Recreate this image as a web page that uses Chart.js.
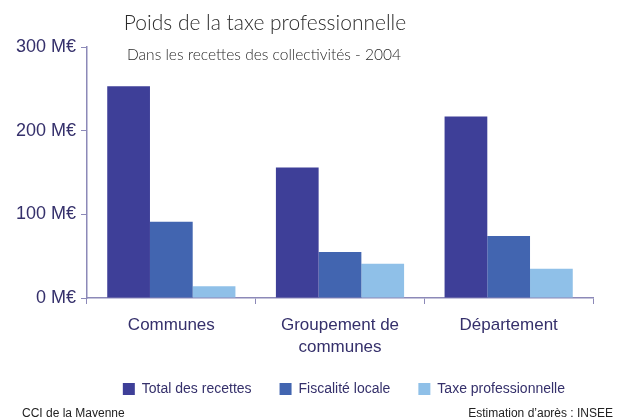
<!DOCTYPE html>
<html>
<head>
<meta charset="utf-8">
<script src="https://cdn.jsdelivr.net/npm/chart.js@4"></script>
<style>
  html, body { margin: 0; padding: 0; background: #fff; }
  #wrap { width: 620px; height: 417px; }
</style>
</head>
<body>
<div id="wrap"><canvas id="taxeChart" width="620" height="417"></canvas></div>
<script>
// donnees (millions d'euros)
var categories = ['Communes', ['Groupement de', 'communes'], 'Département'];
var totalRecettes = [253, 156, 217];
var fiscaliteLocale = [91, 55, 74];
var taxePro = [14, 41, 35];
var yTicks = [0, 100, 200, 300];

var axisColor = '#8c89b8';
var textColor = '#35306b';

// titres et sources dessines a la main sur le canvas
var texts = {
  id: 'texts',
  afterDraw: function (chart) {
    var c = chart.ctx;
    c.save();
    c.fillStyle = '#2a2a2a';
    c.textAlign = 'center';
    c.textBaseline = 'middle';
    c.font = '300 21px Lato';
    c.fillText('Poids de la taxe professionnelle', 265, 23);
    c.font = '300 15.5px Lato';
    c.fillText('Dans les recettes des collectivités - 2004', 264, 55);
    c.fillStyle = '#222';
    c.font = '12px "Liberation Sans"';
    c.textAlign = 'left';
    c.fillText('CCI de la Mayenne', 22, 414);
    c.textAlign = 'right';
    c.fillText('Estimation d\u2019après : INSEE', 613, 414);
    c.restore();
  }
};

var ctx = document.getElementById('taxeChart').getContext('2d');
var chart = new Chart(ctx, {
  type: 'bar',
  data: {
    labels: categories,
    datasets: [
      { label: 'Total des recettes', data: totalRecettes, backgroundColor: '#3e3f98' },
      { label: 'Fiscalité locale', data: fiscaliteLocale, backgroundColor: '#4265b0' },
      { label: 'Taxe professionnelle', data: taxePro, backgroundColor: '#8fc0e8' }
    ]
  },
  options: {
    responsive: false,
    animation: false,
    layout: { padding: { top: 47, left: 8, right: 27, bottom: 11 } },
    datasets: { bar: { categoryPercentage: 0.76, barPercentage: 1 } },
    scales: {
      x: {
        offset: true,
        grid: { offset: true, drawOnChartArea: false, tickLength: 6, color: axisColor },
        border: { color: axisColor, width: 1.5 },
        ticks: { color: textColor, font: { family: 'Liberation Sans', size: 17, lineHeight: 1.3 }, padding: 10 },
        afterFit: function (scale) { scale.height = 56; }
      },
      y: {
        min: 0,
        max: 300,
        afterBuildTicks: function (scale) {
          scale.ticks = yTicks.map(function (v) { return { value: v }; });
        },
        grid: { drawOnChartArea: false, tickLength: 6, color: axisColor },
        border: { color: axisColor, width: 1.5 },
        ticks: {
          color: textColor,
          font: { family: 'Liberation Sans', size: 18 },
          padding: 5,
          callback: function (v) { return v + ' M€'; }
        },
        afterFit: function (scale) { scale.width = 79; }
      }
    },
    plugins: {
      legend: {
        position: 'bottom',
        align: 'end',
        labels: {
          boxWidth: 12,
          boxHeight: 12,
          color: textColor,
          padding: 28,
          font: { family: 'Liberation Sans', size: 14 }
        }
      },
      tooltip: { enabled: false }
    }
  },
  plugins: [texts]
});
</script>
</body>
</html>
